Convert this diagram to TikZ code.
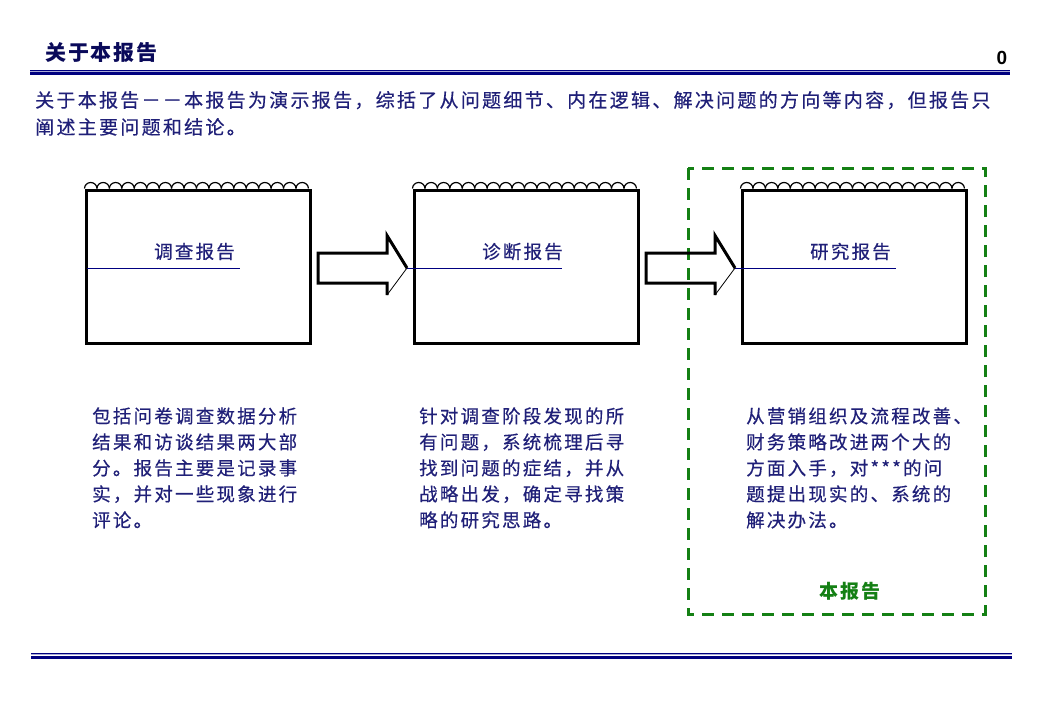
\documentclass[tikz,border=0pt]{standalone}
\usepackage{fontspec}
\setmainfont{Liberation Serif}
\newfontfamily\cjk[LetterSpace=12,FakeBold=0.4]{Noto Sans CJK SC}
\newfontfamily\cjkintro[LetterSpace=12,FakeBold=0.4]{Noto Sans CJK SC}
\newfontfamily\cjkhead[LetterSpace=9]{Noto Sans CJK SC}
\newfontfamily\arialfont{Liberation Sans}
\usetikzlibrary{calc}
\definecolor{navytext}{RGB}{32,32,120}
\definecolor{headnavy}{RGB}{10,10,90}
\definecolor{rulenavy}{RGB}{0,0,128}
\definecolor{rulelight}{RGB}{170,170,215}
\definecolor{dgreen}{RGB}{20,128,20}
\begin{document}
\begin{tikzpicture}[x=1pt,y=-1pt,
  txt/.style={text=navytext, font=\cjk\fontsize{18.5}{18.5}\selectfont, inner sep=0pt, anchor=base west},
  introtxt/.style={text=navytext, font=\cjkintro\fontsize{19}{19}\selectfont, inner sep=0pt, anchor=base west},
  lbl/.style={text=navytext, font=\cjk\fontsize{18.5}{18.5}\selectfont, inner sep=0pt, anchor=base},
  reportbox/.style={draw=black, line width=3pt, minimum width=224pt, minimum height=153pt, inner sep=0pt},
  scallop/.style={draw=black, line width=1.2pt},
  underl/.style={draw=rulenavy, line width=0.9pt},
  blockarrow/.style={draw=black, line width=3pt, line join=miter},
  blockarrowthin/.style={draw=black, line width=0.8pt},
  focus/.style={draw=dgreen, line width=3pt, dash pattern=on 12pt off 8pt}
]
\useasboundingbox[fill=white] (0,0) rectangle (1040,720);

% header
\node[text=headnavy, font=\cjkhead\bfseries\fontsize{21}{21}\selectfont, inner sep=0pt, anchor=base west] (title) at (45,60) {关于本报告};
\node[font=\arialfont\bfseries\fontsize{19}{19}\selectfont, inner sep=0pt, anchor=base] (pagenum) at (1002,64) {0};

% header rules
\draw[draw=rulenavy, line width=1.2pt] (30,70.3) -- (1010,70.3);
\draw[draw=rulelight, line width=1pt] (30,71.5) -- (1010,71.5);
\draw[draw=rulenavy, line width=3pt] (30,73.6) -- (1010,73.6);

% intro
\node[introtxt] (intro1) at (35,107.2) {关于本报告－－本报告为演示报告，综括了从问题细节、内在逻辑、解决问题的方向等内容，但报告只};
\node[introtxt] (intro2) at (35,134.2) {阐述主要问题和结论。};

% focus frame
\draw[focus] (688,168) rectangle (985,614);

% boxes
\node[reportbox] (b1) at (198,266.5) {};
\node[reportbox] (b2) at (526,266.5) {};
\node[reportbox] (b3) at (854,266.5) {};

\foreach \b in {b1,b2,b3}{
  \foreach \i in {0,...,17}{
    \draw[scallop] ($(\b.north west)+(\i*12.44,0)$) arc[start angle=180, end angle=360, x radius=6.22, y radius=6];
  }
}

% labels and underlines
\node[lbl] (l1) at ($(b1.north west)+(110,70)$) {调查报告};
\node[lbl] (l2) at ($(b2.north west)+(110,70)$) {诊断报告};
\node[lbl] (l3) at ($(b3.north west)+(110,70)$) {研究报告};

\draw[underl] (87,268) -- (240,268);
\draw[underl] (407,268) -- (562,268);
\draw[underl] (735,268) -- (896,268);

% block arrows
\foreach \s in {318,646}{
  \draw[blockarrow] (\s+89,268) -- (\s+69,235.5) -- (\s+69,253) -- (\s,253) -- (\s,283) -- (\s+69,283) -- (\s+69,295);
  \draw[blockarrowthin] (\s+69,295) -- (\s+89,268);
}

% column texts
\foreach \t [count=\k from 0] in {包括问卷调查数据分析,结果和访谈结果两大部,分。报告主要是记录事,实，并对一些现象进行,评论。}{
  \node[txt] (c1-\k) at (92,423+26*\k) {\t};
}
\foreach \t [count=\k from 0] in {针对调查阶段发现的所,有问题，系统梳理后寻,找到问题的症结，并从,战略出发，确定寻找策,略的研究思路。}{
  \node[txt] (c2-\k) at (419,423+26*\k) {\t};
}
\foreach \t [count=\k from 0] in {从营销组织及流程改善、,财务策略改进两个大的,方面入手，对***的问,题提出现实的、系统的,解决办法。}{
  \node[txt] (c3-\k) at (746,423+26*\k) {\t};
}

\node[text=dgreen, font=\cjkhead\bfseries\fontsize{19}{19}\selectfont, inner sep=0pt, anchor=base] (thisreport) at (850,598) {本报告};

% bottom rules
\draw[draw=rulenavy, line width=1.2pt] (31,653.5) -- (1012,653.5);
\draw[draw=rulelight, line width=1pt] (31,654.8) -- (1012,654.8);
\draw[draw=rulenavy, line width=3pt] (31,657.2) -- (1012,657.2);
\end{tikzpicture}
\end{document}
